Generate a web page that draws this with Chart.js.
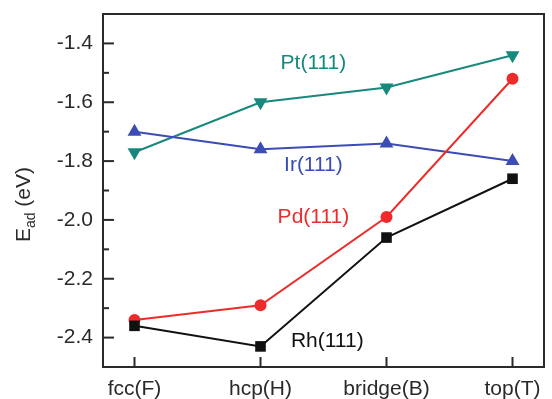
<!DOCTYPE html>
<html>
<head>
<meta charset="utf-8">
<script src="https://cdn.jsdelivr.net/npm/chart.js@4"></script>
<style>
  body { margin: 0; background: #fff; }
  canvas { display: block; }
</style>
</head>
<body>
<canvas id="ead-chart" width="552" height="399"></canvas>
<script>
/* Data */
let sites = ['fcc(F)', 'hcp(H)', 'bridge(B)', 'top(T)']
let rhValues = [-2.36, -2.43, -2.06, -1.86]
let pdValues = [-2.34, -2.29, -1.99, -1.52]
let irValues = [-1.70, -1.76, -1.74, -1.80]
let ptValues = [-1.77, -1.60, -1.55, -1.44]

let seriesNames = ['Rh(111)', 'Pd(111)', 'Ir(111)', 'Pt(111)']
let seriesColors = ['#111111', '#ee2b2b', '#3b4cb4', '#16897c']

/* where the series names sit, in data units */
let nameX = [1.53, 1.42, 1.42, 1.42]
let nameY = [-2.414, -1.99, -1.814, -1.468]

let fontFamily = "'Liberation Sans', Arial, Helvetica, sans-serif"
let fontSize = 21
let axisColor = '#2a2a2a'

function toPoints(values) {
    return values.map((v, i) => ({ x: i, y: v }))
}

/* frame, inward ticks, series names and y title */
let decorPlugin = {
    id: 'decor',
    afterDraw(chart) {
        let ctx = chart.ctx
        let area = chart.chartArea
        let xs = chart.scales.x
        let ys = chart.scales.y
        ctx.save()
        ctx.strokeStyle = axisColor
        ctx.lineWidth = 2

        // inward ticks on the y axis
        ys.ticks.forEach(t => {
            let py = ys.getPixelForValue(t.value)
            let major = Math.round(t.value * 10) % 2 === 0
            ctx.beginPath()
            ctx.moveTo(area.left, py)
            ctx.lineTo(area.left + (major ? 11 : 6), py)
            ctx.stroke()
        })
        // inward ticks on the x axis
        xs.ticks.forEach(t => {
            let px = xs.getPixelForValue(t.value)
            ctx.beginPath()
            ctx.moveTo(px, area.bottom)
            ctx.lineTo(px, area.bottom - 10)
            ctx.stroke()
        })

        ctx.strokeRect(area.left, area.top, area.right - area.left, area.bottom - area.top)

        // series names
        ctx.font = fontSize + 'px ' + fontFamily
        ctx.textAlign = 'center'
        ctx.textBaseline = 'middle'
        seriesNames.forEach((name, i) => {
            ctx.fillStyle = seriesColors[i]
            ctx.fillText(name, xs.getPixelForValue(nameX[i]), ys.getPixelForValue(nameY[i]))
        })

        // y title: E_ad (eV)
        let cy = (area.top + area.bottom) / 2 + 14
        ctx.translate(30, cy)
        ctx.rotate(-Math.PI / 2)
        ctx.fillStyle = axisColor
        ctx.textAlign = 'left'
        ctx.textBaseline = 'alphabetic'
        let bigFont = fontSize + 'px ' + fontFamily
        let smallFont = '14px ' + fontFamily
        ctx.font = bigFont
        let wE = ctx.measureText('E').width
        let wRest = ctx.measureText(' (eV)').width
        ctx.font = smallFont
        let wSub = ctx.measureText('ad').width
        let start = -(wE + wSub + wRest) / 2
        ctx.font = bigFont
        ctx.fillText('E', start, 0)
        ctx.font = smallFont
        ctx.fillText('ad', start + wE, 5)
        ctx.font = bigFont
        ctx.fillText(' (eV)', start + wE + wSub, 0)
        ctx.restore()
    }
}

function makeDataset(i, values, style, rotation, radius) {
    return {
        label: seriesNames[i],
        data: toPoints(values),
        borderColor: seriesColors[i],
        backgroundColor: seriesColors[i],
        borderWidth: 2,
        pointStyle: style,
        rotation: rotation,
        pointRadius: radius,
        pointBorderWidth: 0,
        pointBackgroundColor: seriesColors[i],
        tension: 0
    }
}

let ctx = document.querySelector('#ead-chart').getContext('2d')

let eadChart = new Chart(ctx, {
    type: 'line',
    data: {
        datasets: [
            makeDataset(0, rhValues, 'rect', 0, 7.5),
            makeDataset(1, pdValues, 'circle', 0, 6),
            makeDataset(2, irValues, 'triangle', 0, 8),
            makeDataset(3, ptValues, 'triangle', 180, 8)
        ]
    },
    options: {
        responsive: false,
        animation: false,
        devicePixelRatio: 1,
        layout: { padding: { top: 14, right: 1, left: 0, bottom: 0 } },
        plugins: {
            legend: { display: false },
            tooltip: { enabled: false }
        },
        scales: {
            x: {
                type: 'linear',
                min: -0.25,
                max: 3.25,
                grid: { display: false, drawTicks: false },
                border: { display: false },
                afterBuildTicks(scale) {
                    scale.ticks = sites.map((s, i) => ({ value: i }))
                },
                afterFit(scale) {
                    scale.height = 32
                    scale.paddingLeft = 0
                    scale.paddingRight = 0
                },
                ticks: {
                    color: axisColor,
                    font: { size: fontSize, family: fontFamily },
                    padding: 10,
                    maxRotation: 0,
                    autoSkip: false,
                    callback: value => sites[value]
                }
            },
            y: {
                min: -2.5,
                max: -1.3,
                grid: { display: false, drawTicks: false },
                border: { display: false },
                afterFit(scale) {
                    scale.width = 103
                    scale.paddingTop = 0
                    scale.paddingBottom = 0
                },
                ticks: {
                    stepSize: 0.1,
                    color: axisColor,
                    font: { size: fontSize, family: fontFamily },
                    padding: 10,
                    autoSkip: false,
                    callback: function(value) {
                        let tenths = Math.round(value * 10)
                        return tenths % 2 === 0 ? (tenths / 10).toFixed(1) : ''
                    }
                }
            }
        }
    },
    plugins: [decorPlugin]
})
</script>
</body>
</html>
